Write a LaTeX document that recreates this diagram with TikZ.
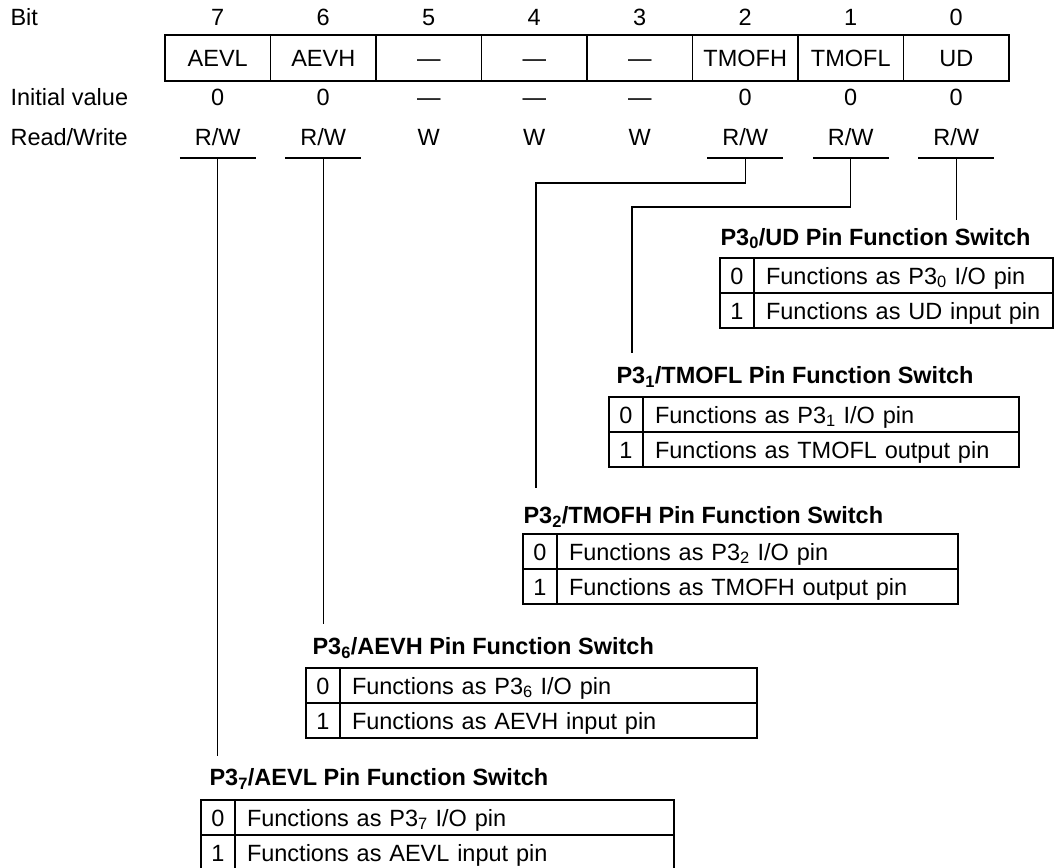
\documentclass[tikz,border=0pt]{standalone}
\usepackage{fontspec}
\setmainfont{Liberation Sans}
\usetikzlibrary{positioning}

\begin{document}
\begin{tikzpicture}[
  x=1pt, y=-1pt, line width=1.1pt,
  font=\fontsize{23.5}{28}\selectfont,
  every node/.style={text height=17pt, text depth=0pt},
  rowname/.style={anchor=west, inner sep=0pt},
  bitno/.style={inner sep=0pt},
  field/.style={draw, minimum width=105.5pt, minimum height=46pt, inner sep=0pt, outer sep=0pt},
  access/.style={minimum width=76pt, inner xsep=0pt, inner ysep=12.5pt, outer sep=0pt},
  swtitle/.style={anchor=west, inner sep=0pt, font=\fontsize{23.5}{28}\selectfont\bfseries},
  value/.style={draw, minimum width=34pt, minimum height=35pt, inner sep=0pt, outer sep=0pt},
  desc/.style={draw, text width=#1, align=left, minimum height=35pt, inner xsep=12pt, inner ysep=0pt, outer sep=0pt},
  wire/.style={line width=1.1pt}
]
\useasboundingbox (0,0) rectangle (1054,867);

% row names
\node[rowname] (lbit) at (10,17) {Bit};
\node[rowname] (linit) at (10,97) {Initial value};
\node[rowname] (lrw) at (10,137) {Read/Write};

% register bits
\foreach \b/\fld/\ini/\acc in {7/AEVL/0/{R/W}, 6/AEVH/0/{R/W},
    5/\textemdash/\textemdash/W, 4/\textemdash/\textemdash/W, 3/\textemdash/\textemdash/W,
    2/TMOFH/0/{R/W}, 1/TMOFL/0/{R/W}, 0/UD/0/{R/W}} {
  \pgfmathsetmacro\cx{217.75+105.5*(7-\b)}
  \node[bitno] (n\b) at (\cx,17) {\b};
  \node[field] (f\b) at (\cx,58) {\fld};
  \node[bitno] (i\b) at (\cx,97) {\ini};
  \node[access] (a\b) at (\cx,137) {\acc};
}
\foreach \b in {7,6,2,1,0}
  \draw (a\b.south west) -- (a\b.south east);

% P3_0/UD
\node[swtitle] (h0) at (720,236.5) {P3\textsubscript{0}/UD Pin Function Switch};
\node[value, anchor=north west] (z0) at (720,258) {0};
\node[desc=275pt, right=0pt of z0] (d0z) {Functions as P3\textsubscript{0} I/O pin};
\node[value, below=0pt of z0] (o0) {1};
\node[desc=275pt, right=0pt of o0] (d0o) {Functions as UD input pin};

% P3_1/TMOFL
\node[swtitle] (h1) at (616,375) {P3\textsubscript{1}/TMOFL Pin Function Switch};
\node[value, anchor=north west] (z1) at (609,397) {0};
\node[desc=352pt, right=0pt of z1] (d1z) {Functions as P3\textsubscript{1} I/O pin};
\node[value, below=0pt of z1] (o1) {1};
\node[desc=352pt, right=0pt of o1] (d1o) {Functions as TMOFL output pin};

% P3_2/TMOFH
\node[swtitle] (h2) at (523,515) {P3\textsubscript{2}/TMOFH Pin Function Switch};
\node[value, anchor=north west] (z2) at (523,534) {0};
\node[desc=377pt, right=0pt of z2] (d2z) {Functions as P3\textsubscript{2} I/O pin};
\node[value, below=0pt of z2] (o2) {1};
\node[desc=377pt, right=0pt of o2] (d2o) {Functions as TMOFH output pin};

% P3_6/AEVH
\node[swtitle] (h6) at (312,646) {P3\textsubscript{6}/AEVH Pin Function Switch};
\node[value, anchor=north west] (z6) at (306,668) {0};
\node[desc=393pt, right=0pt of z6] (d6z) {Functions as P3\textsubscript{6} I/O pin};
\node[value, below=0pt of z6] (o6) {1};
\node[desc=393pt, right=0pt of o6] (d6o) {Functions as AEVH input pin};

% P3_7/AEVL
\node[swtitle] (h7) at (209,777) {P3\textsubscript{7}/AEVL Pin Function Switch};
\node[value, anchor=north west] (z7) at (201,800) {0};
\node[desc=415pt, right=0pt of z7] (d7z) {Functions as P3\textsubscript{7} I/O pin};
\node[value, below=0pt of z7] (o7) {1};
\node[desc=415pt, right=0pt of o7] (d7o) {Functions as AEVL input pin};

% connectors
\coordinate (e0) at (956.25,220);
\coordinate (e1) at (632,353);
\coordinate (e2) at (536,488);
\coordinate (e6) at (323.25,624);
\coordinate (e7) at (217.75,756);
\draw[wire] (a0.south) -- (e0);
\draw[wire] (a1.south) -- ++(0,49) -| (e1);
\draw[wire] (a2.south) -- ++(0,25) -| (e2);
\draw[wire] (a6.south) -- (e6);
\draw[wire] (a7.south) -- (e7);
\end{tikzpicture}
\end{document}
